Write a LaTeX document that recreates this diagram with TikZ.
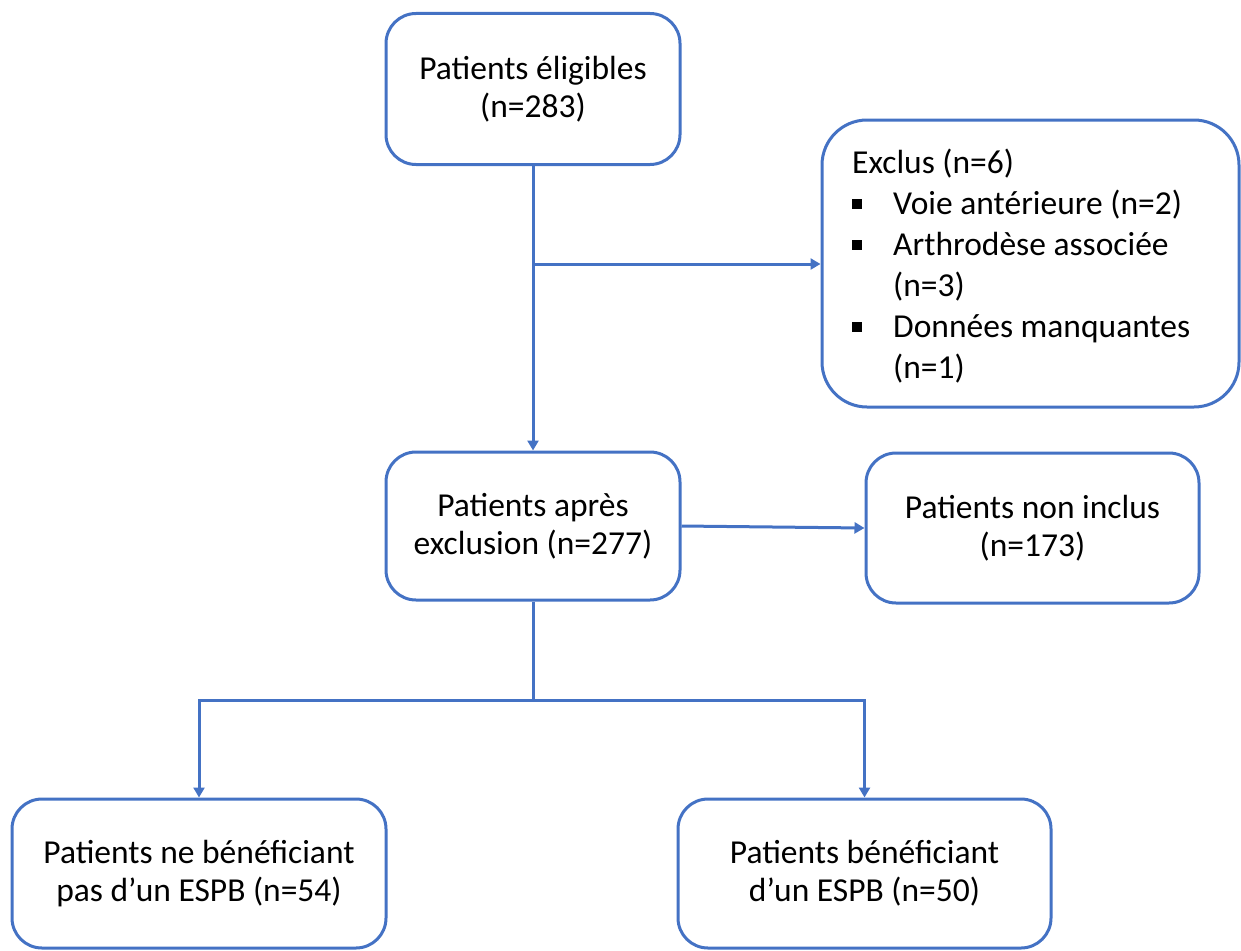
\documentclass[tikz,border=0pt]{standalone}
\usepackage{fontspec}
\setmainfont{Carlito}
\usetikzlibrary{arrows.meta}
\definecolor{obl}{HTML}{4472C4}
\tikzset{
  box/.style={draw=obl, line width=3pt, rounded corners=30pt, align=center, inner sep=0pt,
    font=\fontsize{33.5}{38}\selectfont},
  arr/.style={draw=obl, line width=3pt, -{Triangle[width=11pt,length=10pt]}},
  ln/.style={draw=obl, line width=3pt}
}
\newcommand{\bul}{\makebox[41pt][l]{\raisebox{5pt}{\rule{10pt}{10pt}}}}
\begin{document}
\begin{tikzpicture}[x=1pt,y=-1pt]
\useasboundingbox (0,0) rectangle (1241,950);
\node[box, minimum width=294pt, minimum height=151pt] (A) at (533,89) {Patients éligibles\\(n=283)};
\node[box, minimum width=417pt, minimum height=287pt, rounded corners=45pt] (excl) at (1030.5,263.5) {};
\node[anchor=base west, align=left, inner sep=0pt, font=\fontsize{33.5}{41}\selectfont] (excltext) at (852,378)
  {Exclus (n=6)\\\bul Voie antérieure (n=2)\\\bul Arthrodèse associée\\\hspace*{41pt}(n=3)\\\bul Données manquantes\\\hspace*{41pt}(n=1)};
\node[box, minimum width=294pt, minimum height=148pt] (B) at (533,526) {Patients après\\exclusion (n=277)};
\node[box, minimum width=333pt, minimum height=150pt] (C) at (1032.5,528) {Patients non inclus\\(n=173)};
\node[box, minimum width=374pt, minimum height=149pt] (D) at (199,873.5) {Patients ne bénéficiant\\pas d’un ESPB (n=54)};
\node[box, minimum width=373pt, minimum height=149pt] (E) at (864.5,873.5) {Patients bénéficiant\\d’un ESPB (n=50)};
\coordinate (j1) at (533,264);
\coordinate (j2) at (533,700);
\draw[arr] (A) -- (B);
\draw[arr] (j1) -- (j1 -| excl.west);
\draw[arr] (B.east) -- (C.west);
\draw[ln] (B) -- (j2);
\draw[arr] (j2) -| (D.north);
\draw[arr] (j2) -| (E.north);
\end{tikzpicture}
\end{document}
